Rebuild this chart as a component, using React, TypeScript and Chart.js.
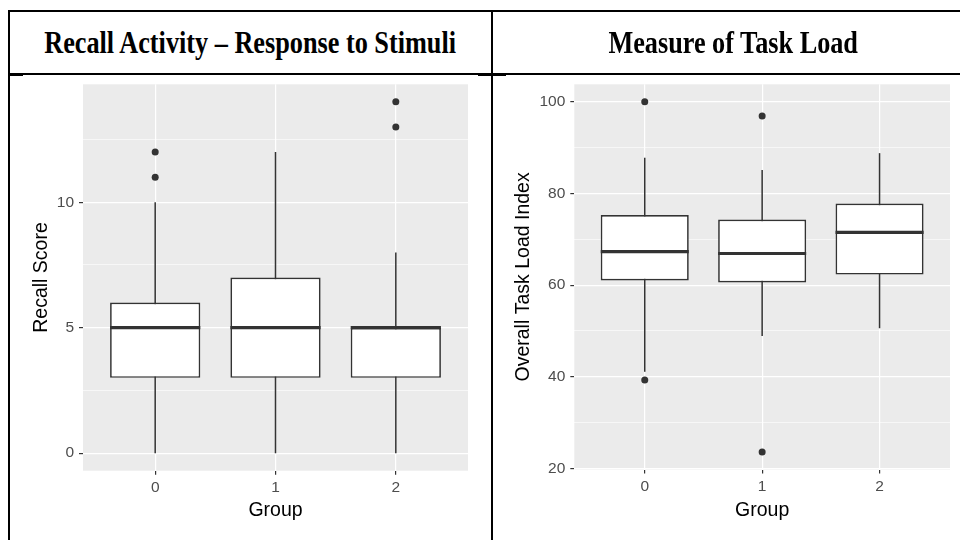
import React, { useEffect, useRef } from 'react';
import { Chart, registerables } from 'chart.js';

Chart.register(...registerables);

// ---------- data ----------
const GROUPS = [0, 1, 2];
const GROUP_LABELS = ['0', '1', '2'];

const RECALL_LOW = [0, 0, 0];
const RECALL_Q1 = [3, 3, 3];
const RECALL_MEDIAN = [5, 5, 5];
const RECALL_Q3 = [6, 7, 5];
const RECALL_HIGH = [10, 12, 8];
const RECALL_OUTLIER_GROUP = [0, 0, 2, 2];
const RECALL_OUTLIER_VALUE = [11, 12, 13, 14];
const RECALL_TICKS = [0, 2.5, 5, 7.5, 10, 12.5];
const RECALL_TICK_LABELS = [0, 5, 10];

const TLX_LOW = [41.1, 48.9, 50.6];
const TLX_Q1 = [61.0, 60.6, 62.3];
const TLX_MEDIAN = [67.3, 66.9, 71.5];
const TLX_Q3 = [75.3, 74.3, 77.8];
const TLX_HIGH = [87.8, 85.1, 88.8];
const TLX_OUTLIER_GROUP = [0, 0, 1, 1];
const TLX_OUTLIER_VALUE = [100, 39.3, 96.9, 23.6];
const TLX_TICKS = [20, 30, 40, 50, 60, 70, 80, 90, 100];
const TLX_TICK_LABELS = [20, 40, 60, 80, 100];

const TITLES = ['Recall Activity – Response to Stimuli', 'Measure of Task Load'];

// ---------- styling ----------
const SANS = "'Liberation Sans', Arial, sans-serif";
const SERIF = "'Liberation Serif', 'Times New Roman', serif";
const INK = '#333333';

const ggBoxPlugin = {
  id: 'ggbox',
  beforeDraw(chart: any) {
    const { ctx, chartArea } = chart;
    ctx.save();
    ctx.fillStyle = '#EBEBEB';
    ctx.fillRect(chartArea.left, chartArea.top, chartArea.right - chartArea.left, chartArea.bottom - chartArea.top);
    ctx.restore();
  },
  beforeDatasetsDraw(chart: any, _args: any, opts: any) {
    const { ctx } = chart;
    const xs = chart.scales.x;
    const ys = chart.scales.y;
    ctx.save();
    ctx.strokeStyle = INK;
    ctx.lineWidth = 1.5;
    opts.groups.forEach((g: number, i: number) => {
      const px = xs.getPixelForValue(g);
      ctx.beginPath();
      ctx.moveTo(px, ys.getPixelForValue(opts.low[i]));
      ctx.lineTo(px, ys.getPixelForValue(opts.high[i]));
      ctx.stroke();
    });
    ctx.restore();
  },
  afterDatasetsDraw(chart: any, _args: any, opts: any) {
    const { ctx } = chart;
    const ys = chart.scales.y;
    const meta = chart.getDatasetMeta(0);
    ctx.save();
    ctx.strokeStyle = INK;
    ctx.lineWidth = 3.2;
    meta.data.forEach((bar: any, i: number) => {
      const { x, width } = bar.getProps(['x', 'width'], true);
      const py = ys.getPixelForValue(opts.median[i]);
      ctx.beginPath();
      ctx.moveTo(x - width / 2, py);
      ctx.lineTo(x + width / 2, py);
      ctx.stroke();
    });
    ctx.restore();
  },
};

type BoxProps = {
  low: number[]; q1: number[]; median: number[]; q3: number[]; high: number[];
  outGroup: number[]; outValue: number[];
  ticks: number[]; tickLabels: number[];
  yTitle: string;
  left: number; top: number; width: number; height: number;
  yAxisWidth: number; xAxisHeight: number; padTop: number; padRight: number;
  yTitleOffset: number; xTitleOffset: number;
};

function BoxChart(p: BoxProps) {
  const ref = useRef<HTMLCanvasElement | null>(null);
  useEffect(() => {
    if (!ref.current) return;
    const all = [...p.low, ...p.high, ...p.outValue];
    const lo = Math.min(...all);
    const hi = Math.max(...all);
    const pad = (hi - lo) * 0.05;
    const titleFont = { family: SANS, size: 19.5 };
    const tickFont = { family: SANS, size: 15.5 };
    const isMajor = (v: number) => p.tickLabels.includes(v);
    const chart = new Chart(ref.current, {
      type: 'bar',
      data: {
        datasets: [
          {
            type: 'bar',
            data: GROUPS.map((g, i) => ({ x: g, y: [p.q1[i], p.q3[i]] })) as any,
            backgroundColor: '#FFFFFF',
            borderColor: INK,
            borderWidth: 1.7,
            borderSkipped: false,
            categoryPercentage: 1,
            barPercentage: 0.75,
          } as any,
          {
            type: 'scatter',
            data: p.outGroup.map((g, i) => ({ x: g, y: p.outValue[i] })),
            backgroundColor: INK,
            borderWidth: 0,
            pointRadius: 3.5,
          } as any,
        ],
      },
      options: {
        animation: false,
        responsive: false,
        events: [],
        layout: { padding: { top: p.padTop, right: p.padRight, left: 0, bottom: 0 } },
        plugins: {
          legend: { display: false },
          tooltip: { enabled: false },
          ggbox: { groups: GROUPS, low: p.low, high: p.high, median: p.median },
        } as any,
        scales: {
          x: {
            type: 'linear',
            min: -0.6,
            max: 2.6,
            offset: false,
            border: { display: false },
            grid: {
              offset: false,
              color: '#FFFFFF',
              lineWidth: 1.2,
              tickColor: INK,
              tickLength: 4,
              tickWidth: 1.2,
            },
            afterBuildTicks: (s: any) => { s.ticks = GROUPS.map((v) => ({ value: v })); },
            afterFit: (s: any) => { s.height = p.xAxisHeight; },
            ticks: {
              autoSkip: false,
              maxRotation: 0,
              padding: 4,
              color: '#4D4D4D',
              font: tickFont,
              callback: (v: any) => GROUP_LABELS[GROUPS.indexOf(Number(v))] ?? '',
            },
            title: {
              display: true,
              text: 'Group',
              color: '#000000',
              font: titleFont,
              padding: { top: 0, bottom: p.xTitleOffset - 11.7 },
            },
          },
          y: {
            type: 'linear',
            min: lo - pad,
            max: hi + pad,
            border: { display: false },
            grid: {
              color: '#FFFFFF',
              lineWidth: (c: any) => (c.tick && isMajor(c.tick.value) ? 1.2 : 0.6),
              tickColor: (c: any) => (c.tick && isMajor(c.tick.value) ? INK : 'rgba(0,0,0,0)'),
              tickLength: 4,
              tickWidth: 1.2,
            },
            afterBuildTicks: (s: any) => { s.ticks = p.ticks.map((v) => ({ value: v })); },
            afterFit: (s: any) => { s.width = p.yAxisWidth; },
            ticks: {
              autoSkip: false,
              padding: 5,
              color: '#4D4D4D',
              font: tickFont,
              callback: (v: any) => (isMajor(Number(v)) ? String(v) : ''),
            },
            title: {
              display: true,
              text: p.yTitle,
              color: '#000000',
              font: titleFont,
              padding: { top: p.yTitleOffset - 11.7, bottom: 0 },
            },
          },
        },
      } as any,
      plugins: [ggBoxPlugin as any],
    });
    return () => chart.destroy();
  }, []);
  return (
    <canvas
      ref={ref}
      width={p.width}
      height={p.height}
      style={{ position: 'absolute', left: p.left, top: p.top, width: p.width, height: p.height }}
    />
  );
}

const line = (l: number, t: number, w: number, h: number) => (
  <div style={{ position: 'absolute', left: l, top: t, width: w, height: h, background: '#000' }} />
);

export default function App() {
  const titleStyle = (left: number, width: number): React.CSSProperties => ({
    position: 'absolute',
    left,
    top: 12,
    width,
    height: 61,
    display: 'flex',
    alignItems: 'center',
    justifyContent: 'center',
    fontFamily: SERIF,
    fontWeight: 'bold',
    fontSize: 32,
    color: '#000',
    whiteSpace: 'nowrap',
  });
  return (
    <div style={{ position: 'absolute', left: 0, top: 0, width: 960, height: 540, background: '#fff', overflow: 'hidden' }}>
      <BoxChart
        low={RECALL_LOW} q1={RECALL_Q1} median={RECALL_MEDIAN} q3={RECALL_Q3} high={RECALL_HIGH}
        outGroup={RECALL_OUTLIER_GROUP} outValue={RECALL_OUTLIER_VALUE}
        ticks={RECALL_TICKS} tickLabels={RECALL_TICK_LABELS}
        yTitle="Recall Score"
        left={12} top={70} width={478} height={470}
        yAxisWidth={71} xAxisHeight={69.3} padTop={8} padRight={22}
        yTitleOffset={29.7} xTitleOffset={29.3}
      />
      <BoxChart
        low={TLX_LOW} q1={TLX_Q1} median={TLX_MEDIAN} q3={TLX_Q3} high={TLX_HIGH}
        outGroup={TLX_OUTLIER_GROUP} outValue={TLX_OUTLIER_VALUE}
        ticks={TLX_TICKS} tickLabels={TLX_TICK_LABELS}
        yTitle="Overall Task Load Index"
        left={494} top={70} width={466} height={470}
        yAxisWidth={80.3} xAxisHeight={70.5} padTop={8} padRight={10}
        yTitleOffset={29.3} xTitleOffset={29.3}
      />
      <div style={{ position: 'absolute', left: 9, top: 12, width: 482, height: 61, background: '#fff' }} />
      <div style={{ position: 'absolute', left: 493, top: 12, width: 467, height: 61, background: '#fff' }} />
      <div style={titleStyle(10, 481)}>
        <span style={{ display: 'inline-block', transform: 'scaleX(0.82)' }}>{TITLES[0]}</span>
      </div>
      <div style={titleStyle(493, 480)}>
        <span style={{ display: 'inline-block', transform: 'scaleX(0.82)' }}>{TITLES[1]}</span>
      </div>
      {line(8, 10, 952, 2)}
      {line(8, 10, 2, 530)}
      {line(491, 10, 2, 530)}
      {line(9, 73, 951, 1.5)}
      {line(8, 74, 15, 2)}
      {line(478, 74, 28, 2)}
    </div>
  );
}
